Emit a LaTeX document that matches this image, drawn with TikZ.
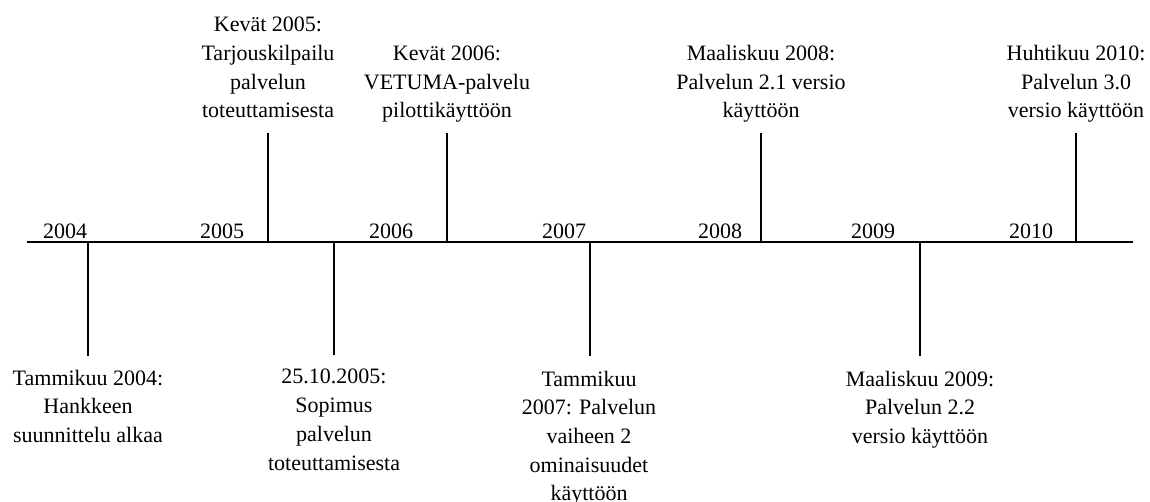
\documentclass[tikz,border=0pt]{standalone}
\usepackage{fontspec}
\setmainfont{Liberation Serif}
\begin{document}
\begin{tikzpicture}[x=1pt,y=-1pt,
  axisline/.style={line width=2.8pt, black},
  tickline/.style={line width=2.6pt, black},
  yearlbl/.style={anchor=base, inner sep=0pt, font=\fontsize{22}{28.7}\selectfont},
  evt/.style={anchor=base, align=center, inner sep=0pt, font=\fontsize{22}{28.7}\selectfont}]
\useasboundingbox (0,0) rectangle (1150,502);

% time axis
\coordinate (L) at (27,242);
\coordinate (R) at (1133,242);
\draw[axisline] (L) -- (R);

% year labels sitting on the axis
\node[yearlbl] (y04) at (65,239)   {2004};
\node[yearlbl] (y05) at (222,239)  {2005};
\node[yearlbl] (y06) at (391,239)  {2006};
\node[yearlbl] (y07) at (564,239)  {2007};
\node[yearlbl] (y08) at (720,239)  {2008};
\node[yearlbl] (y09) at (873,239)  {2009};
\node[yearlbl] (y10) at (1031,239) {2010};

% events above the axis (placed by the baseline of their last line)
\node[evt] (e05) at (268,118)  {Kevät 2005:\\Tarjouskilpailu\\palvelun\\toteuttamisesta};
\node[evt] (e06) at (447,118)  {Kevät 2006:\\VETUMA-palvelu\\pilottikäyttöön};
\node[evt] (e08) at (761,118)  {Maaliskuu 2008:\\Palvelun 2.1 versio\\käyttöön};
\node[evt] (e10) at (1076,118) {Huhtikuu 2010:\\Palvelun 3.0\\versio käyttöön};

% events below the axis
\node[evt] (e04)  at (88,442.4)  {Tammikuu 2004:\\Hankkeen\\suunnittelu alkaa};
\node[evt] (e05b) at (334,470)   {25.10.2005:\\Sopimus\\palvelun\\toteuttamisesta};
\node[evt] (e07)  at (589,500.8) {Tammikuu\\2007: Palvelun\\vaiheen 2\\ominaisuudet\\käyttöön};
\node[evt] (e09)  at (920,443.4) {Maaliskuu 2009:\\Palvelun 2.2\\versio käyttöön};

% tick ends
\coordinate (a05) at (268,242);  \coordinate (t05) at (268,133);
\coordinate (a06) at (447,242);  \coordinate (t06) at (447,133);
\coordinate (a08) at (761,242);  \coordinate (t08) at (761,133);
\coordinate (a10) at (1076,242); \coordinate (t10) at (1076,133);
\coordinate (a04) at (88,242);   \coordinate (t04) at (88,356);
\coordinate (a05b) at (334,242); \coordinate (t05b) at (334,355);
\coordinate (a07) at (590,242);  \coordinate (t07) at (590,356);
\coordinate (a09) at (920,242);  \coordinate (t09) at (920,356);

\foreach \k in {05,06,08,10,04,05b,07,09}
  \draw[tickline] (a\k) -- (t\k);
\end{tikzpicture}
\end{document}
